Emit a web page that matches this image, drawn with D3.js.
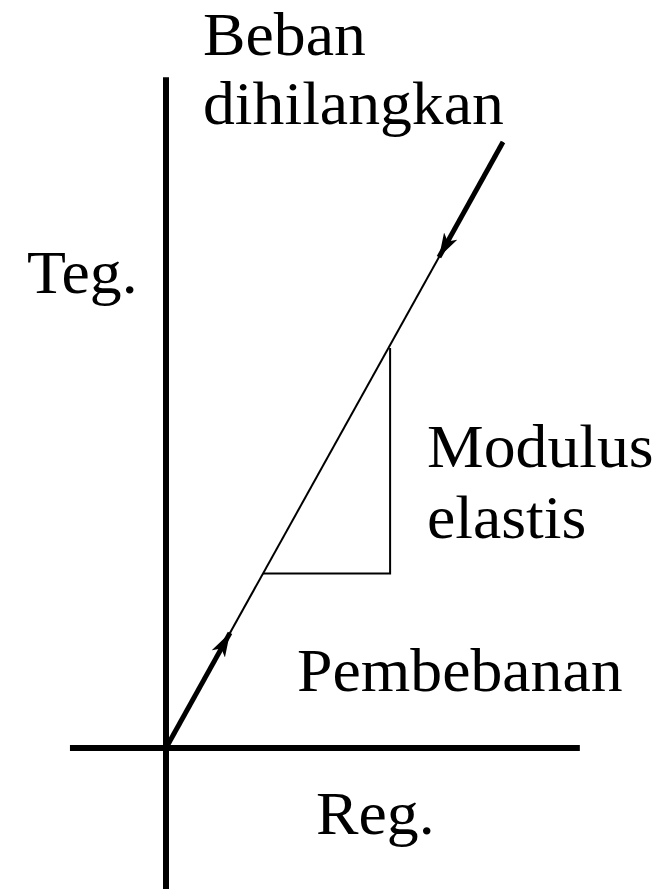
<!DOCTYPE html>
<html><head><meta charset="utf-8">
<script src="https://cdn.jsdelivr.net/npm/d3@7"></script>
<style>html,body{margin:0;padding:0;background:#fff}svg{display:block}</style>
</head><body>
<svg id="c" width="669" height="889"></svg>
<script>
// Schematic data (normalized strain / stress units)
const axisStrainExtent = [-0.285, 1.228];   // horizontal axis (Reg.)
const axisStressExtent = [-0.233, 1.107];   // vertical axis (Teg.)
const elasticLine = [[0, 0], [1, 1]];       // loading/unloading line
const loadingArrow = [[0, 0], [0.19, 0.19]];
const unloadingArrow = [[1, 1], [0.81, 0.81]];
const slopeTriangle = [[0.288, 0.288], [0.665, 0.288], [0.665, 0.66]];
const labels = [
  {text: "Beban", x: 203, y: 55},
  {text: "dihilangkan", x: 203, y: 124},
  {text: "Teg.", x: 27, y: 293},
  {text: "Modulus", x: 427, y: 467},
  {text: "elastis", x: 427, y: 538},
  {text: "Pembebanan", x: 297, y: 691},
  {text: "Reg.", x: 316, y: 834}
];

const svg = d3.select("#c");
const x = d3.scaleLinear().domain([0, 1]).range([166, 503]);
const y = d3.scaleLinear().domain([0, 1]).range([748, 142]);
const line = d3.line().x(d => x(d[0])).y(d => y(d[1]));

svg.append("defs").append("marker")
  .attr("id", "ah").attr("viewBox", "-24 -8 28 16")
  .attr("refX", 0).attr("refY", 0)
  .attr("markerWidth", 28).attr("markerHeight", 16)
  .attr("markerUnits", "userSpaceOnUse").attr("orient", "auto")
  .append("path").attr("d", "M0,0 L-24,-7.5 L-18,0 L-24,7.5 Z").attr("fill", "#000");

// axes
svg.append("line")
  .attr("x1", x(axisStrainExtent[0])).attr("x2", x(axisStrainExtent[1]))
  .attr("y1", y(0)).attr("y2", y(0))
  .attr("stroke", "#000").attr("stroke-width", 6);
svg.append("line")
  .attr("x1", x(0)).attr("x2", x(0))
  .attr("y1", y(axisStressExtent[0])).attr("y2", y(axisStressExtent[1]))
  .attr("stroke", "#000").attr("stroke-width", 6);

// thin elastic line
svg.append("path").attr("d", line(elasticLine))
  .attr("fill", "none").attr("stroke", "#000").attr("stroke-width", 2);

// triangle
svg.append("path").attr("d", line(slopeTriangle))
  .attr("fill", "none").attr("stroke", "#000").attr("stroke-width", 2);

// thick arrows
[loadingArrow, unloadingArrow].forEach(a => {
  svg.append("path").attr("d", line(a))
    .attr("fill", "none").attr("stroke", "#000").attr("stroke-width", 5)
    .attr("marker-end", "url(#ah)");
});

svg.selectAll("text.lbl").data(labels).enter().append("text")
  .attr("class", "lbl")
  .attr("transform", d => `translate(${d.x},${d.y}) scale(1.045,1)`)
  .attr("font-family", "'Liberation Serif', 'Times New Roman', serif")
  .attr("font-size", 61).attr("fill", "#000")
  .text(d => d.text);
</script>
</body></html>
